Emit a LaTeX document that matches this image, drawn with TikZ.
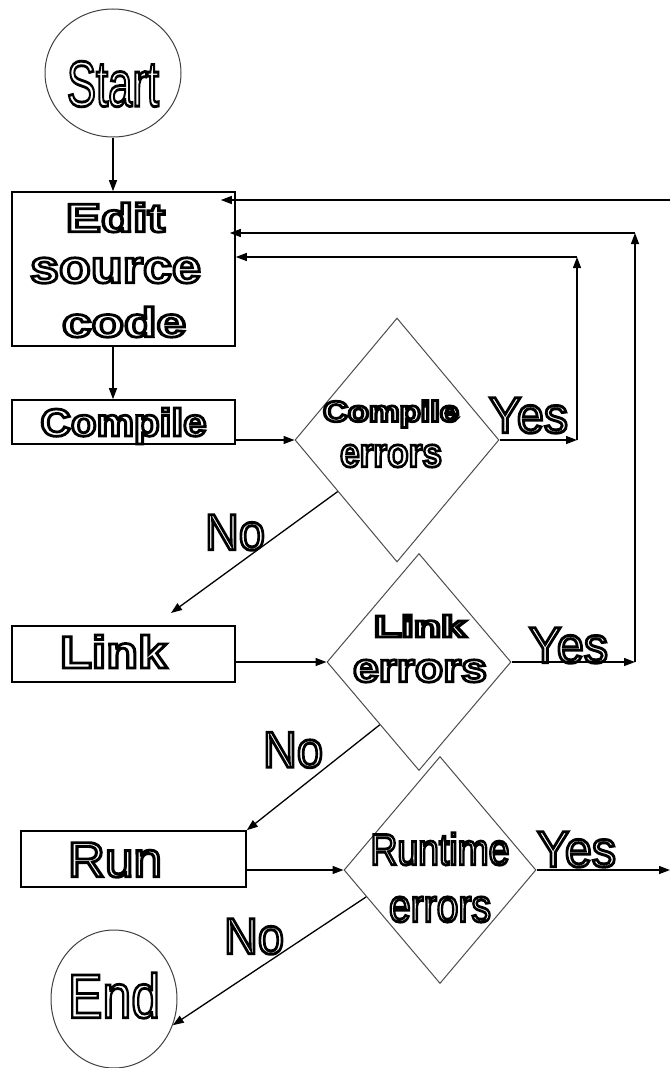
\documentclass[tikz,border=0pt]{standalone}
\usepackage{fontspec}
\usepackage{graphicx}
\setmainfont{Liberation Sans}
\usetikzlibrary{arrows.meta, shapes.geometric}

% hollow lettering: glyphs filled white and stroked black (text render mode 2)
% optional arg: font size per target height (x10), 19 for words with no capitals
\newcommand{\outl}[4][14]{%
  \resizebox{#2}{#3}{\fontsize{\the\dimexpr#3*#1/10\relax}{0pt}\selectfont
    {\color{white}\special{pdf:literal direct 2 Tr 2.8 w 0 G}#4\special{pdf:literal direct 0 Tr}}}}

\tikzset{
  flowline/.style={line width=1.3pt, -{Triangle[length=11pt,width=8pt]}},
  terminal/.style={ellipse, draw=black!75, line width=1pt, inner sep=0pt},
  process/.style={rectangle, draw, line width=1.6pt, inner sep=0pt},
  decision/.style={diamond, draw=black!70, line width=1pt, inner sep=0pt},
  lbl/.style={inner sep=0pt}
}

\begin{document}
\begin{tikzpicture}[x=1pt, y=-1pt]
    \useasboundingbox (0,0) rectangle (670,1068);

    % Terminals and process boxes
    \node[terminal, minimum width=136pt, minimum height=128pt,
          label={[lbl, yshift=-11pt]center:{\outl{92pt}{45pt}{Start}}}] (start) at (113,73) {};
    \node[process, minimum width=223pt, minimum height=154pt,
          label={[lbl, xshift=-8pt, yshift=51.5pt]center:{\outl{99pt}{29pt}{\bfseries Edit}}},
          label={[lbl, xshift=-8pt, yshift=-1.5pt]center:{\outl[19]{171pt}{25pt}{\bfseries source}}},
          label={[lbl, xshift=0.5pt, yshift=-53pt]center:{\outl{124pt}{30pt}{\bfseries code}}}] (edit) at (123.5,269) {};
    \node[process, minimum width=223pt, minimum height=44pt,
          label={[lbl, yshift=-4pt]center:{\outl{166pt}{28pt}{\bfseries Compile}}}] (compile) at (123.5,422) {};
    \node[process, minimum width=223pt, minimum height=56pt,
          label={[lbl, xshift=-10pt, yshift=2.5pt]center:{\outl{107pt}{33pt}{\bfseries Link}}}] (link) at (123.5,654) {};
    \node[process, minimum width=225pt, minimum height=56pt,
          label={[lbl, xshift=-18.5pt, yshift=-1pt]center:{\outl{94pt}{34pt}{Run}}}] (run) at (133.5,859) {};
    \node[terminal, minimum width=126pt, minimum height=138pt,
          label={[lbl, yshift=3.5pt]center:{\outl{92pt}{45pt}{End}}}] (end) at (114,999) {};

    % Decisions
    \node[decision, minimum width=204pt, minimum height=244pt,
          label={[lbl, xshift=-6pt, yshift=26pt]center:{\outl{136pt}{21pt}{\bfseries Compile}}},
          label={[lbl, xshift=-6pt, yshift=-16pt]center:{\outl[19]{102pt}{22pt}{\bfseries errors}}}] (cerr) at (397,440) {};
    \node[decision, minimum width=184pt, minimum height=217pt,
          label={[lbl, xshift=1pt, yshift=36pt]center:{\outl{92pt}{22pt}{\bfseries Link}}},
          label={[lbl, xshift=1pt, yshift=-9pt]center:{\outl[19]{134pt}{22pt}{\bfseries errors}}}] (lerr) at (419,662) {};
    \node[decision, minimum width=192pt, minimum height=227pt,
          label={[lbl, yshift=21pt]center:{\outl{139pt}{32pt}{Runtime}}},
          label={[lbl, yshift=-39.5pt]center:{\outl[19]{102pt}{25pt}{errors}}}] (rerr) at (440,870) {};

    % Branch labels
    \node[lbl] (yes1) at (528.5,415.5) {\outl{79pt}{35pt}{Yes}};
    \node[lbl] (yes2) at (568.5,645.5) {\outl{79pt}{35pt}{Yes}};
    \node[lbl] (yes3) at (576.5,849.5) {\outl{79pt}{35pt}{Yes}};
    \node[lbl] (no1) at (235,532.5) {\outl{60pt}{35pt}{No}};
    \node[lbl] (no2) at (293,750) {\outl{60pt}{35pt}{No}};
    \node[lbl] (no3) at (254,936.5) {\outl{60pt}{35pt}{No}};

    % Loop corners
    \coordinate (loopa) at (577,257);
    \coordinate (loopb) at (635,233);
    \coordinate (loopc) at (670,200);
    \coordinate (noa) at (171,613);

    % Main flow
    \draw[flowline] (start.south) -- (start.south |- edit.north);
    \draw[flowline] (start.south |- edit.south) -- (start.south |- compile.north);
    \draw[flowline] (compile.east |- cerr.west) -- (cerr.west);
    \draw[flowline] (link.east |- lerr.west) -- (lerr.west);
    \draw[flowline] (run.east |- rerr.west) -- (rerr.west);

    % Yes branches back to editing
    \draw[flowline] (cerr.east) -- (cerr.east -| loopa);
    \draw[flowline] (cerr.east -| loopa) -- (loopa);
    \draw[flowline] (loopa) -- (loopa -| edit.east);
    \draw[flowline] (lerr.east) -- (lerr.east -| loopb);
    \draw[flowline] (lerr.east -| loopb) -- (loopb);
    \draw[flowline] (loopb) -- ([xshift=-6pt]loopb -| edit.east);
    \draw[flowline] (rerr.east) -- (rerr.east -| loopc);
    \draw[flowline] (loopc) -- ([xshift=-15pt]loopc -| edit.east);

    % No branches
    \draw[flowline] (cerr.221) -- (noa);
    \draw[flowline] (lerr.238) -- (run.north east);
    \draw[flowline] (rerr.200) -- (end.-24);
\end{tikzpicture}
\end{document}
